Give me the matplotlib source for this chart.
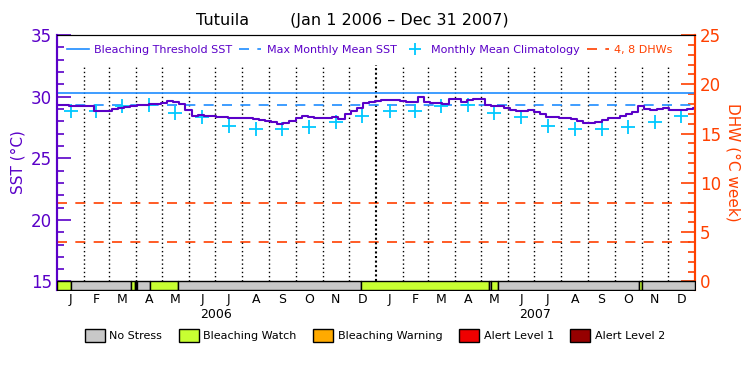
import numpy as np
import matplotlib
matplotlib.use('Agg')
import matplotlib.pyplot as plt
from matplotlib.patches import Patch
from matplotlib.lines import Line2D

# weekly SST (deg C), week 0 = Jan 1 2006
sst_week = [29.3, 29.3, 29.2, 29.2, 29.2, 29.2, 28.8, 28.8, 28.85, 29.0,
            29.1, 29.15, 29.25, 29.35, 29.3, 29.4, 29.4, 29.45, 29.65, 29.6,
            29.4, 28.9, 28.45, 28.5, 28.4, 28.4, 28.38, 28.35, 28.3, 28.25,
            28.3, 28.25, 28.2, 28.1, 28.05, 27.95, 27.8, 27.85, 28.05, 28.25,
            28.4, 28.35, 28.25, 28.25, 28.3, 28.35, 28.2, 28.55, 28.85, 29.1,
            29.45, 29.6, 29.67, 29.73, 29.73, 29.73, 29.65, 29.55, 29.6, 29.95,
            29.6, 29.45, 29.46, 29.42, 29.78, 29.78, 29.55, 29.75, 29.78, 29.78,
            29.3, 29.25, 29.2, 29.1, 28.9, 28.85, 28.85, 28.88, 28.73, 28.6,
            28.38, 28.35, 28.3, 28.25, 28.2, 28.05, 27.85, 27.85, 27.95, 28.1,
            28.25, 28.3, 28.45, 28.6, 28.75, 29.2, 29.0, 28.92, 28.98, 29.05,
            28.95, 28.9, 28.9, 29.0, 29.05]

# monthly mean climatology Jan..Dec
clim = [28.85, 28.84, 29.27, 29.33, 28.7, 28.33, 27.65, 27.35, 27.4, 27.57, 27.97, 28.46]
mmm = 29.33
threshold = mmm + 1.0
dhw_levels = [4, 8]

# bleaching stress runs (start day, level) 0 = no stress, 1 = watch
stress_start = [0, 16, 85, 89, 90, 92, 106, 138, 348, 494, 497, 505, 666, 669]
stress_level = [1, 0, 1, 0, 1, 0, 1, 0, 1, 0, 1, 0, 1, 0]
stress_names = ['No Stress', 'Bleaching Watch', 'Bleaching Warning', 'Alert Level 1', 'Alert Level 2']
stress_colors = ['#c8c8c8', '#c8ff32', '#ffaa00', '#f00000', '#960000']

month_letters = ['J', 'F', 'M', 'A', 'M', 'J', 'J', 'A', 'S', 'O', 'N', 'D']
years = ['2006', '2007']

purple = '#5a00c8'
orange = '#ff4000'
blue = '#1e8cff'
cyan = '#00c8ff'

ndays = 730
t0 = np.datetime64('2006-01-01')
months = np.arange('2006-01', '2008-01', dtype='datetime64[M]')
mstart = (months.astype('datetime64[D]') - t0).astype(int)
mend = np.append(mstart[1:], ndays)
mmid = (mstart + mend) / 2.0

ylo = 14.31
fig = plt.figure(figsize=(7.5, 3.75), dpi=100)
ax = fig.add_axes([0.076, 0.2267, 0.8507, 0.68])
ax.set_xlim(0, ndays)
ax.set_ylim(ylo, 35)

# month grid
for d in mstart[1:]:
    if d == 365:
        ax.plot([d, d], [15, 32.6], color='k', linestyle=(0, (1, 1.2)), lw=1.5)
    else:
        ax.plot([d, d], [15, 32.6], color='k', linestyle=(0, (1, 2)), lw=1)

ax.axhline(threshold, color=blue, lw=1.2)
ax.axhline(mmm, color=blue, lw=1.2, linestyle=(0, (6, 5)))

# DHW reference lines (twin axis)
ax2 = ax.twinx()
ax2.set_ylim((ylo - 15) * 1.25, 25)
for lv in dhw_levels:
    ax2.axhline(lv, color=orange, lw=1.2, linestyle=(0, (6, 5)))

# climatology
ax.plot(mmid, clim * 2, linestyle='', marker='+', color=cyan, ms=10, mew=1.3)

# SST
wd = np.arange(len(sst_week)) * 7
ax.plot(np.append(wd, ndays), sst_week + [sst_week[-1]], color=purple, lw=1.5, drawstyle='steps-post')

# stress bar
ends = stress_start[1:] + [ndays]
for s, e, lv in zip(stress_start, ends, stress_level):
    ax.broken_barh([(s, e - s)], (ylo, 15 - ylo), facecolors=stress_colors[lv],
                   edgecolor='k', lw=1, zorder=3)

ax.set_zorder(ax2.get_zorder() + 1)
ax.patch.set_visible(False)

# axes styling
ax.set_xticks([])
ax.set_yticks([15, 20, 25, 30, 35])
ax.set_yticks(np.arange(15, 35, 1), minor=True)
ax.tick_params(axis='y', which='major', direction='in', length=10, colors=purple, labelsize=12, width=1.2)
ax.tick_params(axis='y', which='minor', direction='in', length=5, colors=purple, width=1.2)
ax.set_ylabel('SST (°C)', color=purple, fontsize=11, labelpad=4)
ax2.set_yticks([0, 5, 10, 15, 20, 25])
ax2.set_yticks(np.arange(0, 25, 1), minor=True)
ax2.tick_params(axis='y', which='major', direction='in', length=10, colors=orange, labelsize=12, width=1.2)
ax2.tick_params(axis='y', which='minor', direction='in', length=5, colors=orange, width=1.2)
ax2.set_ylabel('DHW (°C week)', color=orange, fontsize=11, rotation=270, labelpad=14)
for a in (ax, ax2):
    a.spines['left'].set_color(purple)
    a.spines['right'].set_color(orange)
    a.spines['left'].set_linewidth(1.5)
    a.spines['right'].set_linewidth(1.5)
    a.spines['bottom'].set_visible(False)

for i, x in enumerate(mmid):
    ax.text(x, 13.5, month_letters[i % 12], ha='center', va='center', fontsize=9)
for i, y in enumerate(years):
    ax.text(mmid[i * 12:(i + 1) * 12].mean(), 12.3, y, ha='center', va='center', fontsize=9)

fig.text(0.47, 0.946, 'Tutuila        (Jan 1 2006 – Dec 31 2007)', ha='center', va='center', fontsize=11.5)

handles = [Line2D([], [], color=blue, lw=1.2),
           Line2D([], [], color=blue, lw=1.2, linestyle=(0, (6, 5))),
           Line2D([], [], color=cyan, marker='+', linestyle='', ms=9, mew=1.3),
           Line2D([], [], color=orange, lw=1.2, linestyle=(0, (6, 5)))]
labels = ['Bleaching Threshold SST', 'Max Monthly Mean SST', 'Monthly Mean Climatology', '4, 8 DHWs']
leg = ax.legend(handles, labels, ncol=4, loc='upper center', bbox_to_anchor=(0.49, 1.0), frameon=False,
                fontsize=8, handlelength=2.0, columnspacing=0.6, handletextpad=0.5)
for t, c in zip(leg.get_texts(), [purple, purple, purple, orange]):
    t.set_color(c)

phandles = [Patch(facecolor=c, edgecolor='k') for c in stress_colors]
fig.legend(phandles, stress_names, ncol=5, loc='center', bbox_to_anchor=(0.50, 0.105), frameon=False,
           fontsize=8, handlelength=1.8, handleheight=1.4, columnspacing=1.5, handletextpad=0.4)

plt.savefig('out.png', dpi=100)
